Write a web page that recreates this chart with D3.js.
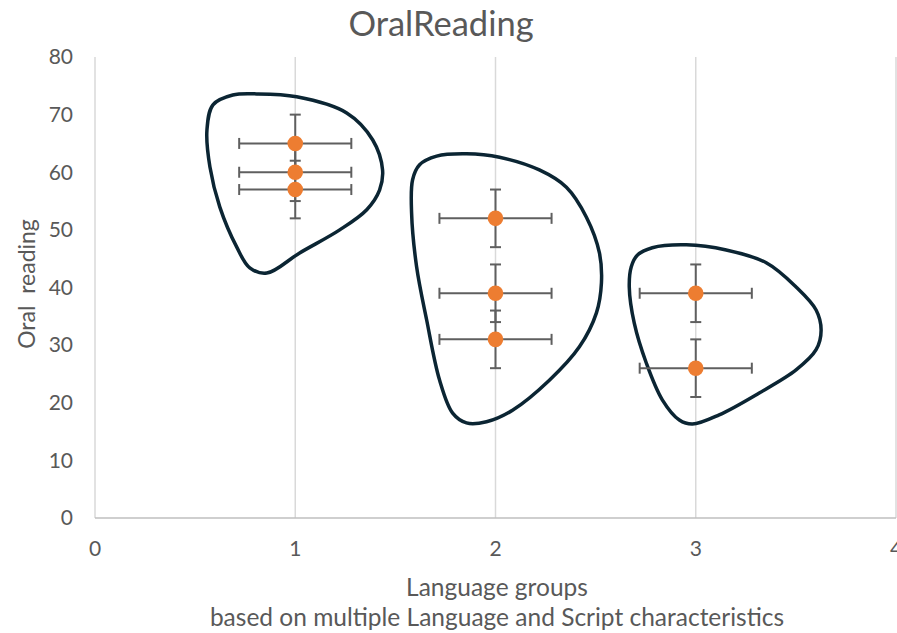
<!DOCTYPE html>
<html>
<head>
<meta charset="utf-8">
<script src="https://cdn.jsdelivr.net/npm/d3@7"></script>
<style>
  html, body { margin: 0; padding: 0; background: #fff; }
  svg { display: block; font-family: Lato, "Open Sans", sans-serif; }
</style>
</head>
<body>
<svg id="chart" width="897" height="633"></svg>
<script>
// Language group means of oral reading score
const groupX = [1, 1, 1, 2, 2, 2, 3, 3];
const readingY = [65, 60, 57, 52, 39, 31, 39, 26];
const xError = [0.28, 0.28, 0.28, 0.28, 0.28, 0.28, 0.28, 0.28];
const yError = [5, 5, 5, 5, 5, 5, 5, 5];

const xTicks = [0, 1, 2, 3, 4];
const yTicks = [0, 10, 20, 30, 40, 50, 60, 70, 80];

// Hand-drawn cluster outlines, in data units [x, y]
const cluster1 = [[0.688,73.4],[0.808,73.6],[1.007,73.1],[1.257,70.3],[1.387,65.6],[1.436,60.4],[1.421,56.9],[1.357,53.5],[1.222,50.0],[1.022,46.0],[0.858,42.5],[0.773,43.4],[0.708,47.0],[0.623,54.0],[0.574,60.9],[0.559,67.3],[0.589,71.7]];
const cluster2 = [[1.706,62.8],[1.855,63.2],[2.020,62.6],[2.219,60.4],[2.354,57.4],[2.454,52.2],[2.519,46.0],[2.529,40.8],[2.504,35.6],[2.419,29.7],[2.269,23.9],[2.085,18.7],[1.955,16.7],[1.855,16.5],[1.786,18.2],[1.721,23.9],[1.656,34.4],[1.606,43.6],[1.581,52.9],[1.586,58.7],[1.621,61.3]];
const cluster3 = [[2.783,46.9],[2.953,47.4],[3.152,46.5],[3.352,44.3],[3.501,40.1],[3.601,36.1],[3.626,32.6],[3.601,29.2],[3.501,25.7],[3.317,21.7],[3.117,17.9],[2.983,16.3],[2.918,17.0],[2.833,20.5],[2.753,26.9],[2.693,33.8],[2.668,40.1],[2.678,43.6],[2.708,45.6]];

const svg = d3.select("#chart");
const textColor = "#595959";

const x = d3.scaleLinear().domain([0, 4]).range([95, 896]);
const y = d3.scaleLinear().domain([0, 80]).range([518, 57]);

// Vertical gridlines
svg.append("g").selectAll("line").data(xTicks).join("line")
  .attr("x1", d => x(d)).attr("x2", d => x(d))
  .attr("y1", y(80)).attr("y2", y(0))
  .attr("stroke", "#d9d9d9").attr("stroke-width", 1.5);

// Horizontal axis line
svg.append("line")
  .attr("x1", x(0)).attr("x2", x(4)).attr("y1", y(0)).attr("y2", y(0))
  .attr("stroke", "#bfbfbf").attr("stroke-width", 1.5);

// Tick labels
svg.append("g").selectAll("text").data(yTicks).join("text")
  .attr("x", 73).attr("y", d => y(d)).attr("dy", "0.35em")
  .attr("text-anchor", "end").attr("font-size", 21).attr("fill", textColor)
  .text(d => d);
svg.append("g").selectAll("text").data(xTicks).join("text")
  .attr("x", d => x(d)).attr("y", 556)
  .attr("text-anchor", "middle").attr("font-size", 21).attr("fill", textColor)
  .text(d => d);

// Titles
svg.append("text").attr("x", 441).attr("y", 36).attr("text-anchor", "middle")
  .attr("font-size", 34.5).attr("fill", textColor).text("OralReading");
svg.append("text").attr("x", 497).attr("y", 596).attr("text-anchor", "middle")
  .attr("font-size", 24.5).attr("fill", textColor).text("Language groups");
svg.append("text").attr("x", 497).attr("y", 626).attr("text-anchor", "middle")
  .attr("font-size", 24.5).attr("fill", textColor)
  .text("based on multiple Language and Script characteristics");
svg.append("text")
  .attr("transform", "translate(35,284) rotate(-90)")
  .attr("text-anchor", "middle").attr("font-size", 23).attr("fill", textColor)
  .attr("xml:space", "preserve").style("white-space", "pre")
  .text("Oral  reading");

// Cluster outlines
const outline = d3.line().x(d => x(d[0])).y(d => y(d[1])).curve(d3.curveCatmullRomClosed.alpha(0.5));
svg.append("g").selectAll("path").data([cluster1, cluster2, cluster3]).join("path")
  .attr("d", outline).attr("fill", "none")
  .attr("stroke", "#0b2533").attr("stroke-width", 3.5);

// Error bars
const pts = groupX.map((gx, i) => ({ gx, v: readingY[i], ex: xError[i], ey: yError[i] }));
const cap = 5.5;
const eb = svg.append("g").attr("stroke", "#5f5f5f").attr("stroke-width", 2);
pts.forEach(p => {
  eb.append("line").attr("x1", x(p.gx - p.ex)).attr("x2", x(p.gx + p.ex)).attr("y1", y(p.v)).attr("y2", y(p.v));
  eb.append("line").attr("x1", x(p.gx - p.ex)).attr("x2", x(p.gx - p.ex)).attr("y1", y(p.v) - cap).attr("y2", y(p.v) + cap);
  eb.append("line").attr("x1", x(p.gx + p.ex)).attr("x2", x(p.gx + p.ex)).attr("y1", y(p.v) - cap).attr("y2", y(p.v) + cap);
  eb.append("line").attr("x1", x(p.gx)).attr("x2", x(p.gx)).attr("y1", y(p.v - p.ey)).attr("y2", y(p.v + p.ey));
  eb.append("line").attr("x1", x(p.gx) - cap).attr("x2", x(p.gx) + cap).attr("y1", y(p.v + p.ey)).attr("y2", y(p.v + p.ey));
  eb.append("line").attr("x1", x(p.gx) - cap).attr("x2", x(p.gx) + cap).attr("y1", y(p.v - p.ey)).attr("y2", y(p.v - p.ey));
});

// Markers
svg.append("g").selectAll("circle").data(pts).join("circle")
  .attr("cx", d => x(d.gx)).attr("cy", d => y(d.v)).attr("r", 7.8)
  .attr("fill", "#ed7d31");
</script>
</body>
</html>
